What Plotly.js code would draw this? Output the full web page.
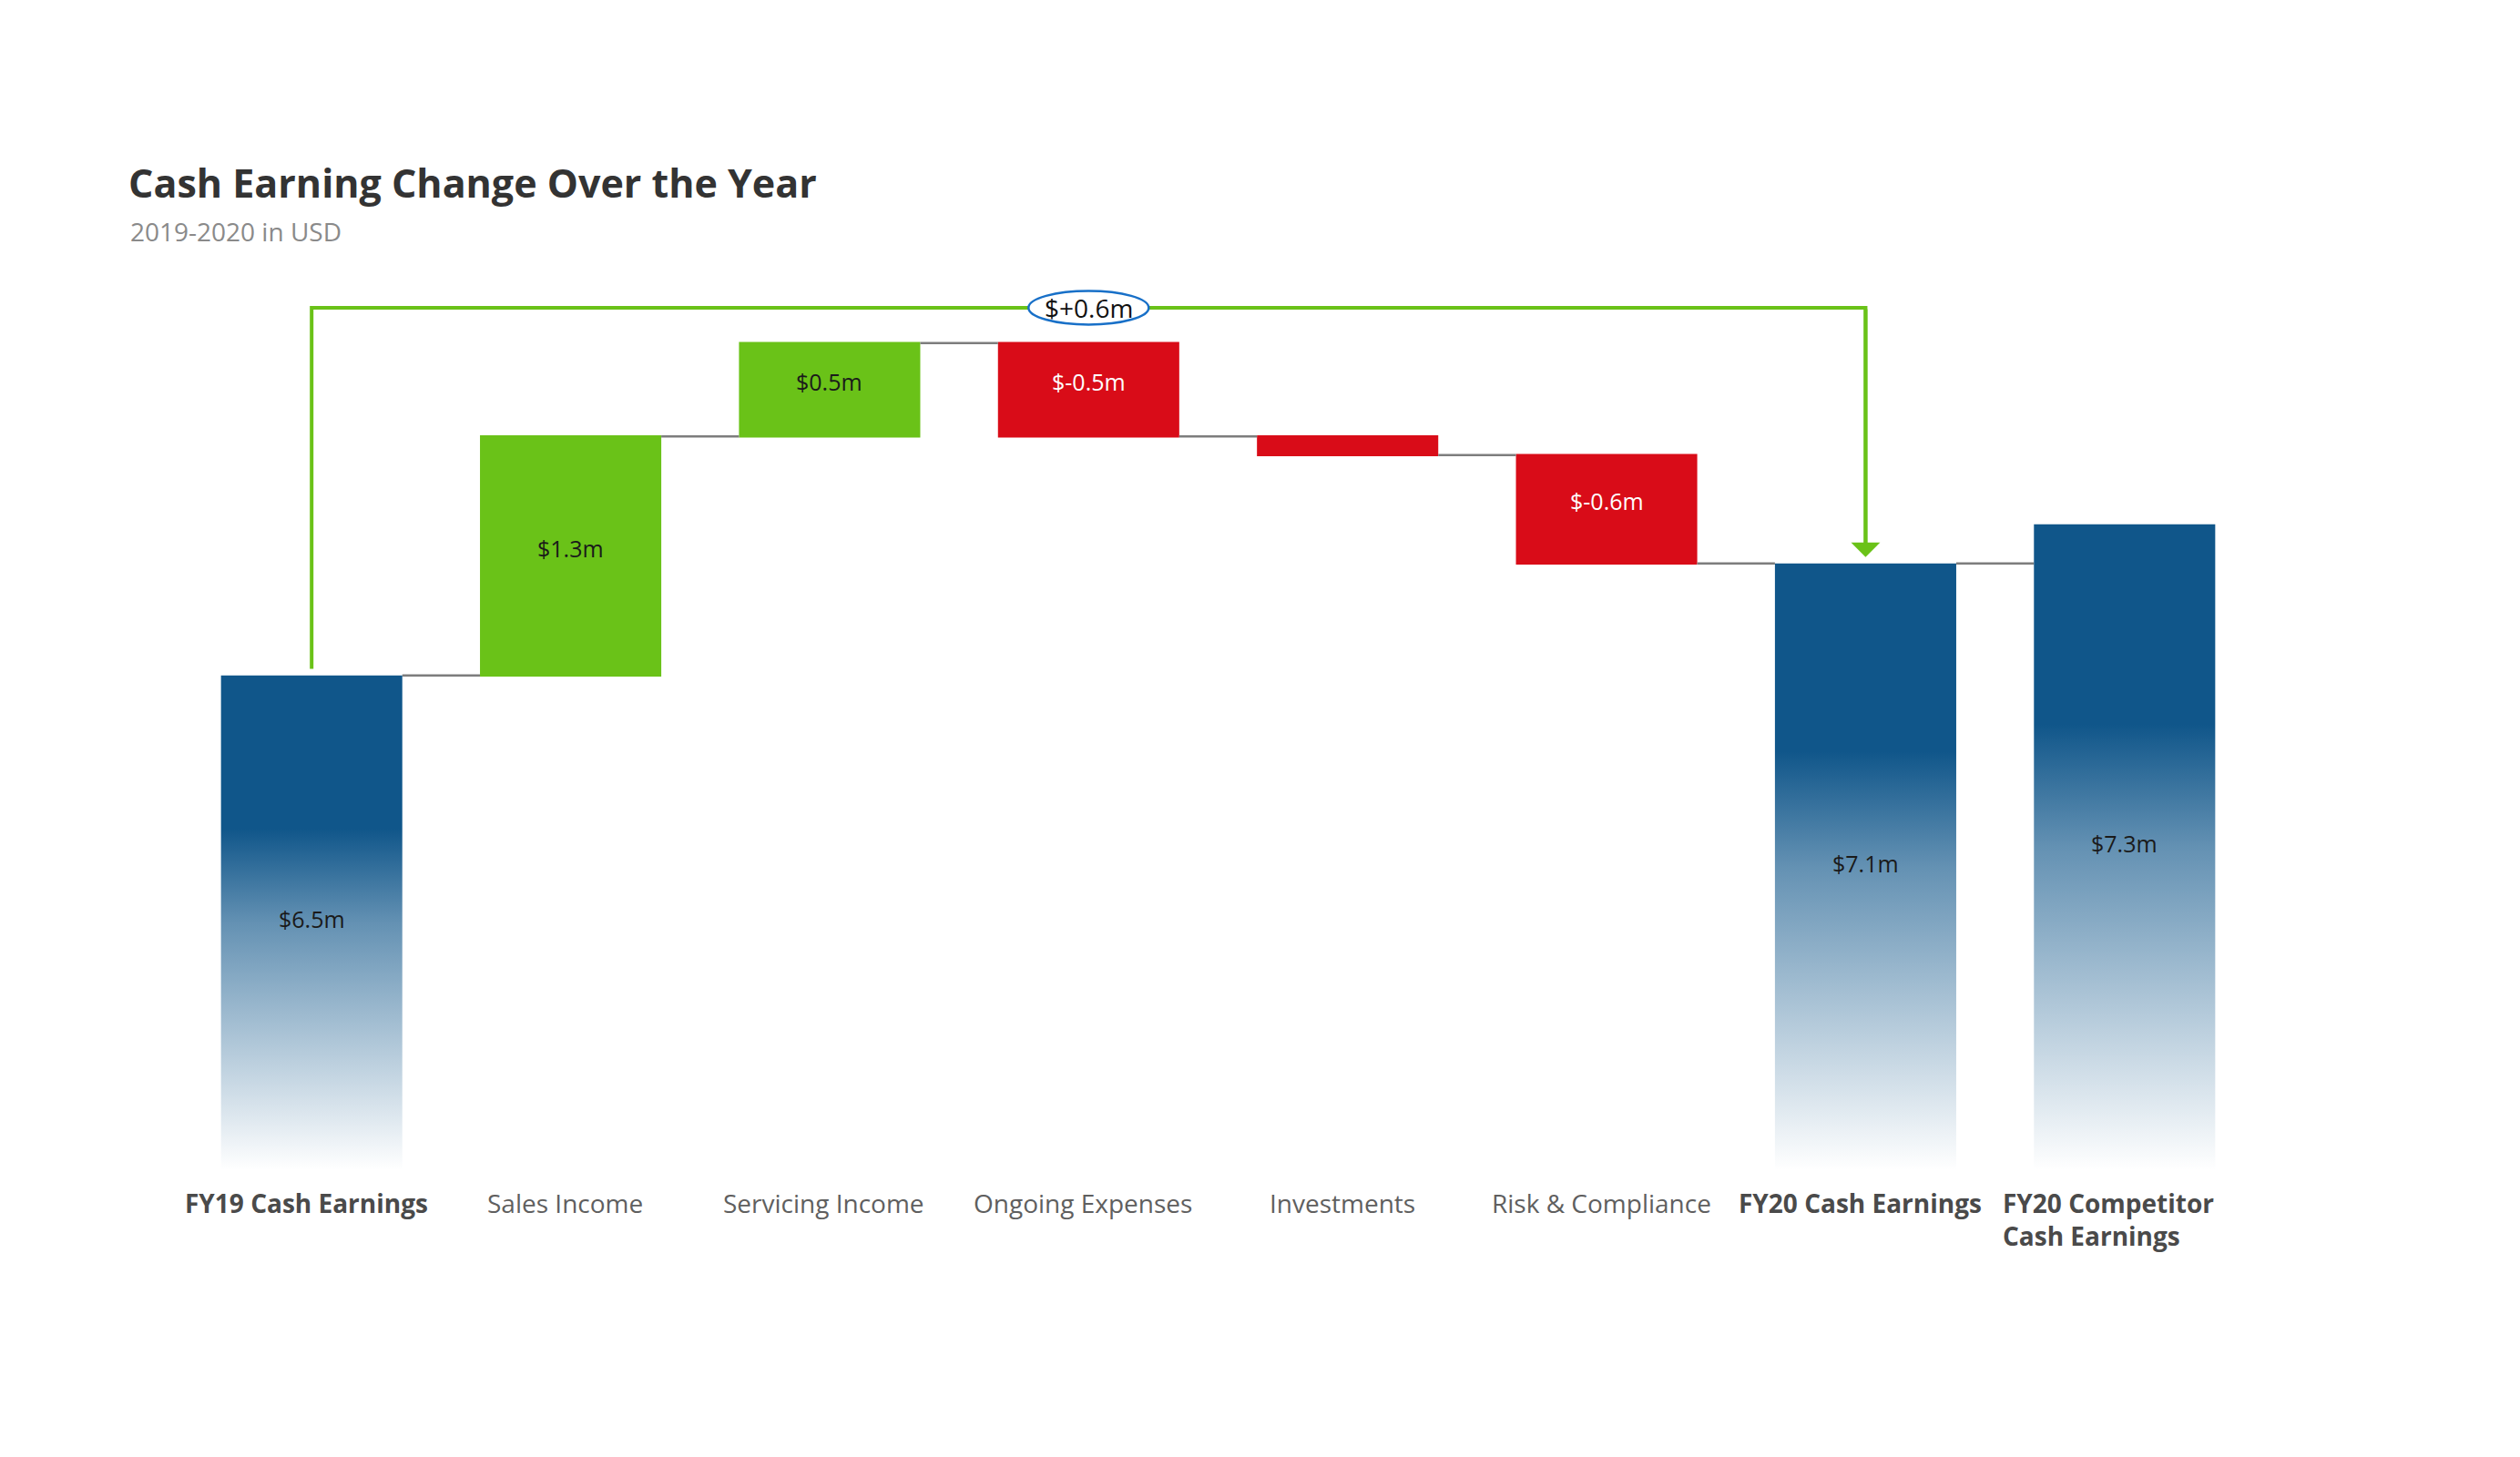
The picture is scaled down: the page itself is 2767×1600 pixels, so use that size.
<!DOCTYPE html>
<html><head><meta charset="utf-8">
<script src="https://cdn.plot.ly/plotly-3.0.1.min.js"></script>
<style>html,body{margin:0;padding:0;background:#fff}#chart{width:2767px;height:1600px}</style>
</head><body><div id="chart"></div>
<script>
// ---- data ----
const categories = ["FY19 Cash Earnings", "Sales Income", "Servicing Income", "Ongoing Expenses",
                    "Investments", "Risk & Compliance", "FY20 Cash Earnings", "FY20 Competitor<br>Cash Earnings"];
const measures = ["absolute", "relative", "relative", "relative", "relative", "relative", "total", "absolute"];
const values = [6.5, 1.28, 0.5, -0.5, -0.1, -0.58, 0, 7.31];   // $m; the "total" value is computed
const titleText = "Cash Earning Change Over the Year";
const subtitleText = "2019-2020 in USD";
const fromIndex = 0, toIndex = 6;   // bracket: FY19 -> FY20

// ---- styles ----
const FONT = "Open Sans, Noto Sans, sans-serif";
const GREEN = "rgb(106,194,24)", RED = "rgb(217,12,24)", BLUE = "16,86,138";
const yRange = [3.85, 8.655];
const BAR_W = 0.7;

// running levels
const starts = [], ends = [];
let run = 0;
measures.forEach((m, i) => {
  if (m === "absolute") { starts.push(yRange[0]); run = values[i]; ends.push(run); }
  else if (m === "relative") { starts.push(run); run += values[i]; ends.push(run); }
  else { starts.push(yRange[0]); ends.push(run); }
});
const isTotal = measures.map(m => m !== "relative");
const fmt = v => "$" + v.toFixed(1) + "m";

const xs = categories.map((c, i) => i);
const traces = [];

traces.push({
  type: "waterfall", x: xs, y: values, measure: measures, width: BAR_W,
  increasing: {marker: {color: GREEN, line: {width: 0}}},
  decreasing: {marker: {color: RED, line: {width: 0}}},
  totals: {marker: {color: "rgba(0,0,0,0)", line: {width: 0}}},
  connector: {mode: "between", line: {color: "rgb(125,125,125)", width: 2.5}},
  textinfo: "none", hoverinfo: "skip"
});

// gradient total bars
xs.forEach(i => {
  if (!isTotal[i]) return;
  const b = yRange[0], t = ends[i];
  traces.push({
    type: "scatter", mode: "none", fill: "toself", hoverinfo: "skip",
    x: [i - BAR_W/2, i + BAR_W/2, i + BAR_W/2, i - BAR_W/2, i - BAR_W/2],
    y: [b, b, t, t, b],
    fillgradient: {type: "vertical", start: b, stop: t, colorscale: [
      [0, `rgba(${BLUE},0.0)`], [0.5, `rgba(${BLUE},0.65)`], [0.69, `rgba(${BLUE},1)`], [1, `rgba(${BLUE},1)`]]}
  });
});

// bracket
const topRun = Math.max(...ends.slice(fromIndex, toIndex + 1));
const level = topRun + 0.19;
traces.push({
  type: "scatter", mode: "lines", hoverinfo: "skip",
  x: [fromIndex, fromIndex, toIndex, toIndex],
  y: [ends[fromIndex] + 0.035, level, level, ends[toIndex] + 0.1],
  line: {color: GREEN, width: 4}
});

const annotations = [];
// subtitle
annotations.push({xref: "paper", yref: "paper", x: -0.0259, y: 1.0467, xanchor: "left", yanchor: "middle",
  showarrow: false, text: subtitleText, font: {family: FONT, size: 28, color: "#8a8a8a"}});
// arrow head
annotations.push({x: toIndex, y: ends[toIndex], ax: toIndex, ay: level, axref: "x", ayref: "y", xref: "x", yref: "y",
  text: "", showarrow: true, arrowhead: 1, arrowwidth: 4, arrowsize: 1.33, arrowcolor: GREEN, standoff: 7});
// delta label
const delta = ends[toIndex] - ends[fromIndex];
annotations.push({x: (fromIndex + toIndex) / 2, y: level, showarrow: false,
  text: "$" + (delta >= 0 ? "+" : "") + delta.toFixed(1) + "m", font: {family: FONT, size: 28, color: "#111"}});
// bar labels
xs.forEach(i => {
  const v = isTotal[i] ? ends[i] : values[i];
  if (!isTotal[i] && Math.abs(v) < 0.2) return;
  const mid = (starts[i] + ends[i]) / 2;
  annotations.push({x: i, y: mid, yshift: isTotal[i] ? 4 : 9, showarrow: false, text: fmt(v),
    font: {family: FONT, size: 25, color: (!isTotal[i] && v < 0) ? "#ffffff" : "#1a1a1a"}});
});
// category labels
xs.forEach(i => {
  const multi = categories[i].indexOf("<br>") >= 0;
  annotations.push({x: i, xref: "x", yref: "paper", y: 0, yanchor: "top", xanchor: "center", align: "left",
    yshift: -15, xshift: multi ? -18 : -6, showarrow: false,
    text: isTotal[i] ? "<b>" + categories[i] + "</b>" : categories[i],
    font: {family: FONT, size: 28, color: isTotal[i] ? "#4a4a4a" : "#5f5f5f"}});
});

const shapes = [{
  type: "circle", xref: "x", yref: "y", layer: "above",
  xsizemode: "pixel", xanchor: (fromIndex + toIndex) / 2, x0: -66, x1: 66,
  ysizemode: "pixel", yanchor: level, y0: -18.5, y1: 18.5,
  fillcolor: "#ffffff", line: {color: "rgb(24,112,200)", width: 2.5}
}];

const layout = {
  width: 2767, height: 1600,
  margin: {l: 200, r: 292, t: 300, b: 315},
  paper_bgcolor: "#ffffff", plot_bgcolor: "#ffffff",
  showlegend: false, waterfallgap: 0.3,
  font: {family: FONT},
  title: {text: "<b>" + titleText + "</b>", xref: "container", yref: "container",
    x: 0.051, xanchor: "left", y: 0.874, yanchor: "middle",
    font: {family: FONT, size: 43, color: "#333333"}},
  xaxis: {range: [-0.5, 7.5], showgrid: false, zeroline: false, showticklabels: false, showline: false, fixedrange: true},
  yaxis: {range: yRange, showgrid: false, zeroline: false, showticklabels: false, showline: false, fixedrange: true},
  annotations: annotations, shapes: shapes
};

Plotly.newPlot("chart", traces, layout, {displayModeBar: false, staticPlot: true});
</script></body></html>
